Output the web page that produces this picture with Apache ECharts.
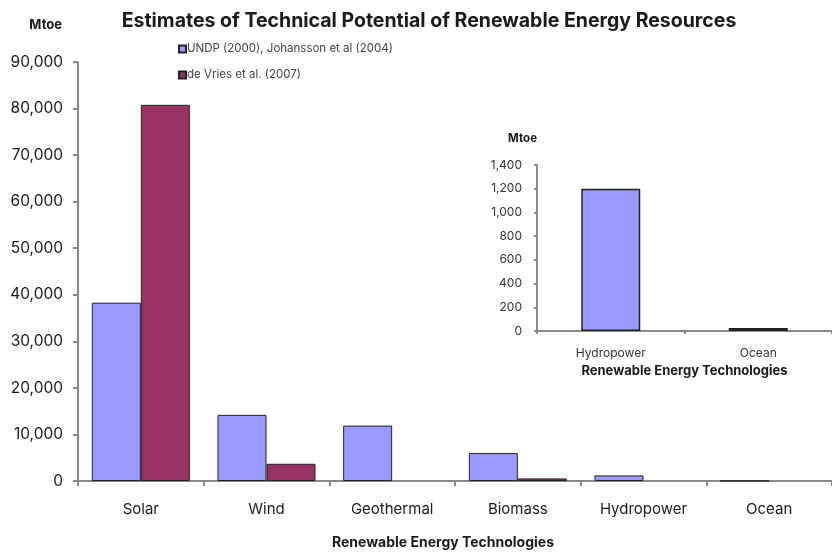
<!DOCTYPE html>
<html>
<head>
<meta charset="utf-8">
<script src="https://cdn.jsdelivr.net/npm/echarts@6/dist/echarts.min.js"></script>
<style>html,body{margin:0;padding:0;background:#fff}#c{width:832px;height:555px}</style>
</head>
<body>
<div id="c"></div>
<script>
const titleText = 'Estimates of Technical Potential of Renewable Energy Resources';
const categories = ['Solar', 'Wind', 'Geothermal', 'Biomass', 'Hydropower', 'Ocean'];
const seriesNames = ['UNDP (2000), Johansson et al (2004)', 'de Vries et al. (2007)'];
const undpValues = [38300, 14200, 11900, 6000, 1200, 25];
const deVriesValues = [80800, 3700, null, 550, null, null];
const insetCategories = ['Hydropower', 'Ocean'];
const insetValues = [1200, 25];
const axisTitle = 'Renewable Energy Technologies';
const unitLabel = 'Mtoe';

const fam = 'Inter, "Liberation Sans", Arial, sans-serif';
const comma = v => String(v).replace(/\B(?=(\d{3})+(?!\d))/g, ',');
const chart = echarts.init(document.getElementById('c'), null, {renderer: 'canvas'});
const axisLine = {show: true, lineStyle: {color: '#8a8a8a', width: 2}};
chart.setOption({
  backgroundColor: '#fff',
  animation: false,
  textStyle: {fontFamily: fam},
  title: {
    text: titleText, left: 424, top: 6, textAlign: 'center',
    textStyle: {fontFamily: fam, fontSize: 19.5, fontWeight: 'bold', color: '#1a1a1a'}
  },
  legend: {
    data: seriesNames, orient: 'vertical', left: 173, top: 38,
    itemWidth: 7, itemHeight: 7, itemGap: 14, icon: 'rect',
    textStyle: {fontFamily: fam, fontSize: 11.5, color: '#444', padding: [0, 0, 0, -4]}
  },
  grid: [
    {left: 78, top: 62, width: 762, height: 423, containLabel: false},
    {left: 537, top: 165, width: 302, height: 166, containLabel: false}
  ],
  xAxis: [
    {
      type: 'category', gridIndex: 0, data: categories,
      axisLine: axisLine,
      axisTick: {show: true, length: 5, lineStyle: {color: '#8a8a8a', width: 2}},
      axisLabel: {fontFamily: fam, fontSize: 15, color: '#1a1a1a', margin: 21},
      name: axisTitle, nameLocation: 'middle', nameGap: 55,
      nameTextStyle: {fontFamily: fam, fontSize: 14, fontWeight: 'bold', color: '#1a1a1a', padding: [0, 24, 0, 0]}
    },
    {
      type: 'category', gridIndex: 1, data: insetCategories,
      axisLine: axisLine,
      axisTick: {show: true, length: 3, lineStyle: {color: '#8a8a8a', width: 2}},
      axisLabel: {fontFamily: fam, fontSize: 12, color: '#333', margin: 16},
      name: axisTitle, nameLocation: 'middle', nameGap: 34,
      nameTextStyle: {fontFamily: fam, fontSize: 13, fontWeight: 'bold', color: '#1a1a1a'}
    }
  ],
  yAxis: [
    {
      type: 'value', gridIndex: 0, min: 0, max: 90000, interval: 10000,
      axisLine: axisLine,
      axisTick: {show: true, inside: false, length: 5, lineStyle: {color: '#8a8a8a', width: 2}},
      splitLine: {show: false},
      axisLabel: {fontFamily: fam, fontSize: 15.5, color: '#1a1a1a', margin: 15, formatter: comma},
      name: unitLabel, nameLocation: 'end', nameGap: 30,
      nameTextStyle: {fontFamily: fam, fontSize: 13, fontWeight: 'bold', color: '#1a1a1a', align: 'right', padding: [0, 16, 0, 0]}
    },
    {
      type: 'value', gridIndex: 1, min: 0, max: 1400, interval: 200,
      axisLine: axisLine,
      axisTick: {show: true, length: 3, lineStyle: {color: '#8a8a8a', width: 2}},
      splitLine: {show: false},
      axisLabel: {fontFamily: fam, fontSize: 12, color: '#333', margin: 15, formatter: comma},
      name: unitLabel, nameLocation: 'end', nameGap: 20,
      nameTextStyle: {fontFamily: fam, fontSize: 11.5, fontWeight: 'bold', color: '#1a1a1a', align: 'right'}
    }
  ],
  series: [
    {
      name: seriesNames[0], type: 'bar', xAxisIndex: 0, yAxisIndex: 0, data: undpValues,
      barGap: '0%', barCategoryGap: '22%',
      itemStyle: {color: '#9999ff', borderColor: '#222', borderWidth: 1}
    },
    {
      name: seriesNames[1], type: 'bar', xAxisIndex: 0, yAxisIndex: 0, data: deVriesValues,
      barGap: '0%', barCategoryGap: '22%',
      itemStyle: {color: '#993366', borderColor: '#222', borderWidth: 1}
    },
    {
      name: 'inset', type: 'bar', xAxisIndex: 1, yAxisIndex: 1, data: insetValues,
      barCategoryGap: '60%',
      itemStyle: {color: '#9999ff', borderColor: '#222', borderWidth: 1.5}
    }
  ]
});
</script>
</body>
</html>
